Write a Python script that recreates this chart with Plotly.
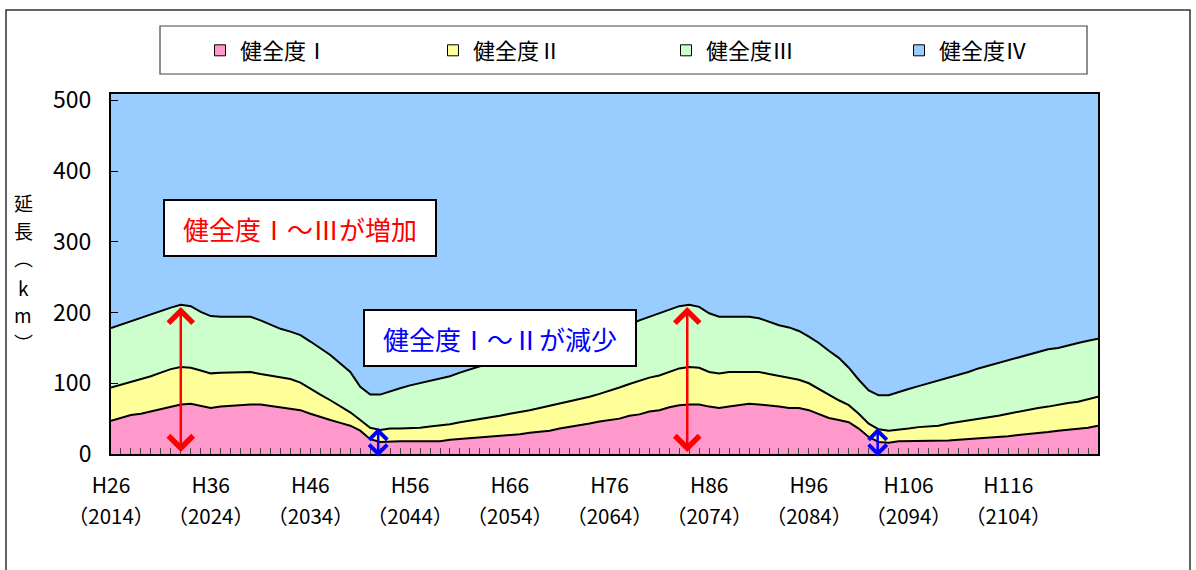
import plotly.graph_objects as go

# Fiscal years on the horizontal axis (H26 = 2014 ... H125 = 2113)
years = list(range(2014, 2114))
tick_years = [2014, 2024, 2034, 2044, 2054, 2064, 2074, 2084, 2094, 2104]
era_labels = ["H26", "H36", "H46", "H56", "H66", "H76", "H86", "H96", "H106", "H116"]
year_labels = ["（2014）", "（2024）", "（2034）", "（2044）", "（2054）",
               "（2064）", "（2074）", "（2084）", "（2094）", "（2104）"]

series_names = ["健全度Ⅰ", "健全度Ⅱ", "健全度Ⅲ", "健全度Ⅳ"]
series_colors = ["#FF99CC", "#FFFF99", "#CCFFCC", "#99CCFF"]

# Length (km) by soundness grade, per year
kenzen1 = [47, 51, 55, 57, 60, 63, 67, 70, 71, 68, 65, 67, 68, 70, 70, 70, 68, 65, 64, 62,
           57, 52, 48, 44, 40, 33, 21, 17, 18, 18, 18, 18, 18, 18, 20, 21, 23, 24, 25, 26,
           27, 28, 30, 31, 33, 36, 38, 40, 43, 46, 48, 50, 54, 56, 60, 62, 66, 69, 70, 70,
           67, 65, 67, 69, 71, 70, 69, 67, 65, 65, 62, 57, 51, 48, 45, 36, 24, 17, 16, 18,
           18, 18, 18, 18, 19, 20, 21, 21, 22, 24, 25, 27, 28, 29, 31, 33, 34, 36, 37, 40]
kenzen2 = [47, 47, 46, 48, 50, 52, 53, 53, 51, 50, 49, 48, 47, 46, 46, 43, 43, 43, 42, 39,
           35, 32, 28, 23, 19, 15, 16, 17, 18, 18, 18, 19, 21, 22, 22, 24, 24, 26, 27, 28,
           30, 31, 32, 34, 35, 35, 36, 37, 38, 39, 41, 44, 45, 48, 48, 49, 50, 52, 53, 52,
           49, 49, 49, 47, 45, 46, 44, 43, 42, 40, 38, 35, 32, 28, 24, 21, 19, 18, 17, 16,
           18, 20, 21, 22, 24, 25, 26, 29, 30, 30, 32, 33, 35, 36, 36, 37, 38, 38, 40, 41]
kenzen3 = [84, 85, 87, 88, 88, 88, 87, 88, 87, 83, 81, 79, 79, 78, 78, 76, 72, 69, 67, 67,
           67, 65, 64, 61, 57, 47, 47, 50, 53, 57, 61, 63, 65, 67, 68, 70, 73, 74, 76, 77,
           78, 81, 82, 82, 82, 82, 82, 82, 81, 82, 83, 84, 84, 85, 86, 87, 88, 88, 88, 86,
           83, 80, 78, 78, 78, 76, 74, 72, 72, 69, 66, 65, 63, 60, 53, 48, 47, 48, 50, 54,
           56, 58, 61, 64, 65, 66, 69, 71, 73, 74, 75, 76, 78, 80, 81, 80, 82, 83, 83, 82]
kenzen4 = [332, 327, 322, 317, 312, 307, 303, 299, 301, 309, 315, 316, 316, 316, 316, 321, 327, 333, 337, 342,
           351, 361, 370, 382, 394, 415, 426, 426, 421, 417, 413, 410, 406, 403, 400, 395, 390, 386, 382, 379,
           375, 370, 366, 363, 360, 357, 354, 351, 348, 343, 338, 332, 327, 321, 316, 312, 306, 301, 299, 302,
           311, 316, 316, 316, 316, 318, 323, 328, 331, 336, 344, 353, 364, 374, 388, 405, 420, 427, 427, 422,
           418, 414, 410, 406, 402, 399, 394, 389, 385, 382, 378, 374, 369, 365, 362, 360, 356, 353, 350, 347]
series_values = [kenzen1, kenzen2, kenzen3, kenzen4]

# vertical axis title, one character per row
axis_title_chars = ["延", "長", "︵", "k", "m", "︶"]

FONT = "Noto Sans CJK JP"

fig = go.Figure()

# stacked areas with black outlines (top grade has no outline)
for name, vals, color in zip(series_names, series_values, series_colors):
    fig.add_trace(go.Scatter(
        x=years, y=vals, name=name, stackgroup="one", mode="lines",
        line=dict(color="black", width=0 if name == "健全度Ⅳ" else 2),
        fillcolor=color, showlegend=False, legendgroup=name,
    ))

# square legend keys (placed on the overlaid axis that carries the year labels)
for name, color in zip(series_names, series_colors):
    fig.add_trace(go.Scatter(
        x=[None], y=[None], name=name, mode="markers", legendgroup=name, xaxis="x2",
        marker=dict(symbol="square", size=11, color=color, line=dict(color="black", width=1)),
    ))

L, R, T, B = 111, 98, 94, 116
PW, PH = 1196 - L - R, 570 - T - B


def px_x(p):
    return (p - L) / PW


def px_y(p):
    return (570 - B - p) / PH


def double_arrow(x, y_low, y_high, color, size):
    return dict(x=x, y=y_low, ax=x, ay=y_high, xref="x", yref="y", axref="x", ayref="y",
                text="", showarrow=True, arrowside="end+start", arrowhead=4, startarrowhead=4,
                arrowsize=size, startarrowsize=size, arrowwidth=2.5, arrowcolor=color,
                font=dict(size=1))


annotations = [
    double_arrow(2021, 3, 210, "#FF0000", 1.9),
    double_arrow(2071.8, 3, 210, "#FF0000", 1.9),
    double_arrow(2040.8, -3.5, 39, "#0000FF", 1.4),
    double_arrow(2090.9, -3.5, 39, "#0000FF", 1.4),
    # callout boxes
    dict(x=2033, y=319, xref="x", yref="y", text="健全度Ⅰ～Ⅲが増加", showarrow=False,
         font=dict(family=FONT, size=26, color="#FF0000"), bgcolor="white",
         bordercolor="black", borderwidth=2, borderpad=1, width=268, height=52),
    dict(x=2053, y=163.4, xref="x", yref="y", text="健全度Ⅰ～Ⅱが減少", showarrow=False,
         font=dict(family=FONT, size=26, color="#0000FF"), bgcolor="white",
         bordercolor="black", borderwidth=2, borderpad=1, width=268, height=52),
]

# vertical axis title, stacked character by character
title_rows = [202, 230, 257, 287, 314, 342]
for ch, row in zip(axis_title_chars, title_rows):
    annotations.append(dict(
        x=px_x(23), y=px_y(row), xref="paper", yref="paper", text=ch, showarrow=False,
        font=dict(family=FONT, size=19, color="black"), xanchor="center", yanchor="middle",
        borderpad=0,
    ))

shapes = [
    # outer chart frame
    dict(type="rect", xref="paper", yref="paper", x0=px_x(6), x1=px_x(1190),
         y0=px_y(585), y1=px_y(10), line=dict(color="#333333", width=1.5)),
    # legend frame
    dict(type="rect", xref="paper", yref="paper", x0=px_x(160), x1=px_x(1087),
         y0=px_y(74), y1=px_y(26), line=dict(color="#444444", width=1.2)),
]

fig.update_layout(
    width=1196, height=570,
    margin=dict(l=L, r=R, t=T, b=B),
    paper_bgcolor="white", plot_bgcolor="white",
    font=dict(family=FONT, size=20, color="black"),
    showlegend=True,
    legend=dict(orientation="h", x=px_x(200), y=px_y(50.5), xanchor="left", yanchor="middle",
                entrywidth=188, entrywidthmode="pixels", borderwidth=0,
                bgcolor="rgba(0,0,0,0)", font=dict(family=FONT, size=22)),
    annotations=annotations,
    shapes=shapes,
    xaxis=dict(
        range=[2014, 2113], tickmode="array", tickvals=tick_years, ticktext=era_labels,
        ticks="inside", ticklen=6, tickcolor="#444444", tickwidth=1,
        minor=dict(tickmode="linear", tick0=2014, dtick=1, ticks="inside", ticklen=6,
                   tickcolor="#444444", tickwidth=1),
        showline=True, linecolor="black", linewidth=2, mirror=True, showgrid=False,
        zeroline=False, ticklabelstandoff=12, tickfont=dict(family=FONT, size=21),
    ),
    xaxis2=dict(
        overlaying="x", anchor="y", side="bottom", range=[2014, 2113],
        tickmode="array", tickvals=tick_years, ticktext=year_labels, ticks="",
        showline=False, showgrid=False, zeroline=False, ticklabelstandoff=48,
        tickfont=dict(family=FONT, size=20.5),
    ),
    yaxis=dict(
        range=[0, 509], tickmode="array", tickvals=[0, 100, 200, 300, 400, 500],
        ticks="inside", ticklen=7, tickcolor="black", tickwidth=1,
        showline=True, linecolor="black", linewidth=2, mirror=True, showgrid=False,
        zeroline=False, ticklabelstandoff=13, tickfont=dict(family=FONT, size=23),
    ),
)

fig.write_html("out.html")
